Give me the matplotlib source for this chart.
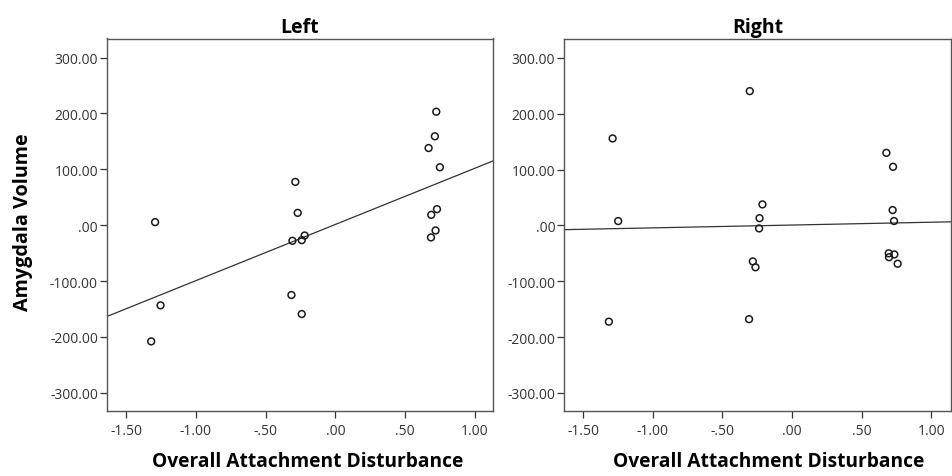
import numpy as np
import matplotlib
matplotlib.use("Agg")
import matplotlib.pyplot as plt

plt.rcParams['font.family'] = ['Open Sans', 'DejaVu Sans']

left_x = [0.724, 0.714, 0.669, 0.750, -0.287, -0.270, -1.293, -0.220, -0.241,
          -0.308, 0.729, 0.688, 0.719, 0.686, -0.315, -0.241, -1.254, -1.321]
left_y = [203, 159, 138, 103.6, 77.4, 22, 5.4, -18.5, -26.8,
          -28, 28.6, 18.5, -9.5, -22, -125, -159, -143.5, -208]

right_x = [-0.304, -1.289, 0.677, 0.725, -0.213, 0.722, -0.234, -1.249, 0.732,
           -0.237, -0.282, -0.263, 0.694, 0.696, 0.734, 0.758, -0.309, -1.316]
right_y = [240.6, 155.8, 130, 105, 37.6, 27.5, 13, 7.8, 7.8,
           -5.4, -64.5, -75, -50, -57, -52, -68.7, -168, -172.5]

x_ticks = [-1.5, -1.0, -0.5, 0.0, 0.5, 1.0]
x_tick_labels = ['-1.50', '-1.00', '-.50', '.00', '.50', '1.00']
y_ticks = [-300, -200, -100, 0, 100, 200, 300]
y_tick_labels = ['-300.00', '-200.00', '-100.00', '.00', '100.00', '200.00', '300.00']

titles = ['Left', 'Right']
xlabel = 'Overall Attachment Disturbance'
ylabel = 'Amygdala Volume'

fig = plt.figure(figsize=(9.52, 4.77), dpi=100)
W, H = 952, 477
axes_px = [(107, 39.5, 493, 411.7), (564.3, 40, 950.7, 411.7)]
data = [(left_x, left_y), (right_x, right_y)]
xlims = [(-1.638, 1.131), (-1.636, 1.139)]
xlabel_x = [0.519, 0.530]

for i, (box, (xs, ys)) in enumerate(zip(axes_px, data)):
    x0, y0, x1, y1 = box
    ax = fig.add_axes([x0 / W, 1 - y1 / H, (x1 - x0) / W, (y1 - y0) / H])
    xs = np.array(xs); ys = np.array(ys)
    ax.scatter(xs, ys, s=24, facecolors='none', edgecolors='#1a1a1a', linewidths=1.1, zorder=3)
    m, b = np.polyfit(xs, ys, 1)
    lx = np.array(xlims[i])
    ax.plot(lx, m * lx + b, color='#333333', lw=0.9, zorder=2)
    ax.set_xlim(*xlims[i])
    ax.set_ylim(-332, 334)
    ax.set_xticks(x_ticks)
    ax.set_xticklabels(x_tick_labels)
    ax.set_yticks(y_ticks)
    ax.set_yticklabels(y_tick_labels)
    ax.tick_params(direction='out', length=5, width=0.9, color='#333333',
                   labelsize=10, labelcolor='#333333')
    ax.tick_params(axis='x', pad=4)
    ax.tick_params(axis='y', pad=1.5)
    for sp in ax.spines.values():
        sp.set_color('#555555')
        sp.set_linewidth(1.0)
    ax.set_title(titles[i], fontsize=14, fontweight='bold', pad=5)
    ax.set_xlabel(xlabel, fontsize=13.8, fontweight='bold', labelpad=9, x=xlabel_x[i])
    if i == 0:
        ax.set_ylabel(ylabel, fontsize=14.2, fontweight='bold', labelpad=12, y=0.508)

fig.savefig('out.png', dpi=100)
